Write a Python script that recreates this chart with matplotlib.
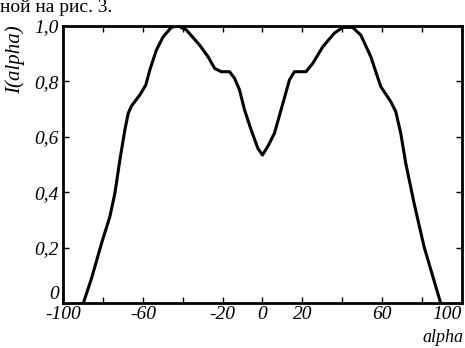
import matplotlib
matplotlib.use("Agg")
import matplotlib.pyplot as plt

# curve: angle alpha and intensity I(alpha)
alpha = [-89.8, -85.7, -80.7, -76.5, -74.0, -71.5, -69.0, -67.3, -65.7, -61.5,
         -58.5, -56.5, -53.2, -49.8, -45.7, -42.3, -38.2, -31.5, -27.3, -24.0,
         -20.7, -16.5, -14.0, -11.5, -9.0, -5.7, -2.3, 0.0,
         3.0, 6.0, 9.3, 13.5, 16.0, 21.8, 25.2, 30.2, 36.0, 40.2, 45.2, 49.3,
         54.3, 59.3, 64.3, 66.8, 69.3, 71.8, 76.0, 81.0, 89.3]
intensity = [0.0, 0.089, 0.215, 0.312, 0.396, 0.516, 0.625, 0.685, 0.711, 0.751,
             0.787, 0.841, 0.913, 0.961, 0.995, 1.0, 0.986, 0.931, 0.889, 0.847,
             0.835, 0.835, 0.811, 0.769, 0.697, 0.625, 0.558, 0.534,
             0.57, 0.613, 0.697, 0.805, 0.835, 0.835, 0.865, 0.925, 0.974, 0.995, 0.995, 0.967,
             0.889, 0.781, 0.727, 0.691, 0.613, 0.505, 0.36, 0.203, 0.0]

xticks = [-100, -80, -60, -40, -20, 0, 20, 40, 60, 80, 100]
xticklabels = ["-100", "", "-60", "", "-20", "0", "20", "", "60", "", "100"]
yticks = [0, 0.2, 0.4, 0.6, 0.8, 1.0]
yticklabels = ["0", "0,2", "0,4", "0,6", "0,8", "1,0"]

plt.rcParams["font.family"] = ["Liberation Serif", "DejaVu Serif"]

fig = plt.figure(figsize=(4.65, 3.48), dpi=100)
ax = fig.add_axes([0.1355, 0.1293, 0.858, 0.796])

ax.plot(alpha, intensity, color="black", lw=2.2, solid_joinstyle="round")
ax.set_xlim(-100, 100)
ax.set_ylim(0, 1.0)

ax.set_xticks(xticks)
ax.set_xticklabels(xticklabels, fontstyle="italic", fontsize=14)
ax.get_xticklabels()[-1].set_horizontalalignment("right")
ax.set_yticks(yticks)
ax.set_yticklabels(yticklabels, fontstyle="italic", fontsize=14)
ax.get_yticklabels()[0].set_verticalalignment("bottom")
ax.tick_params(direction="in", length=4, width=1, top=True, right=True)
ax.tick_params(axis="x", pad=2)
ax.tick_params(axis="y", pad=3)
for s in ax.spines.values():
    s.set_linewidth(2)

fig.text(0.996, 0.006, "alpha", ha="right", va="bottom",
         fontstyle="italic", fontsize=13)
fig.text(0.032, 0.828, "I(alpha)", ha="center", va="center", rotation=90,
         fontstyle="italic", fontsize=15)
fig.text(0.0, 1.003, "ной на рис. 3.", ha="left", va="top", fontsize=14)

fig.savefig("out.png", dpi=100)
